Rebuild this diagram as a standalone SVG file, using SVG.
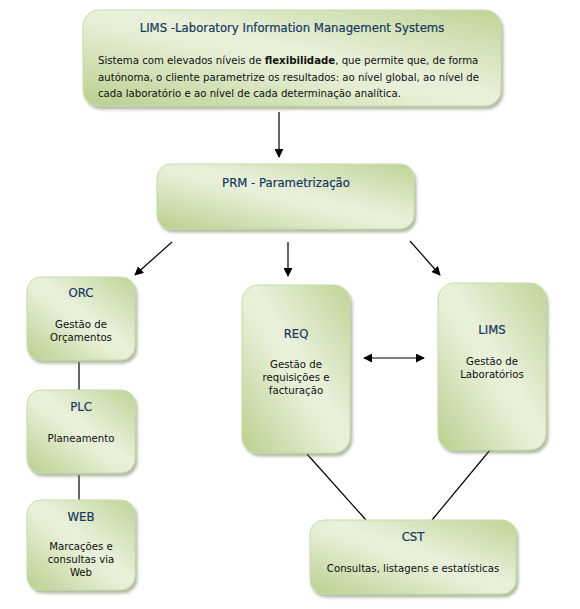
<svg xmlns="http://www.w3.org/2000/svg" width="580" height="609" viewBox="0 0 580 609">
<defs>
<linearGradient id="g" x1="0" y1="1" x2="1" y2="0">
<stop offset="0" stop-color="#b9cf8e"/>
<stop offset="0.45" stop-color="#e6efd6"/>
<stop offset="0.55" stop-color="#e9f0db"/>
<stop offset="1" stop-color="#bed496"/>
</linearGradient>
<filter id="sh" x="-10%" y="-10%" width="130%" height="130%">
<feDropShadow dx="2" dy="3" stdDeviation="1.5" flood-color="#6f7f55" flood-opacity="0.55"/>
</filter>
<marker id="ah" viewBox="0 0 10 10" refX="9" refY="5" markerWidth="9" markerHeight="9" markerUnits="userSpaceOnUse" orient="auto-start-reverse">
<path d="M0,0 L10,5 L0,10 z" fill="#000"/>
</marker>
</defs>
<style>
.box{fill:url(#g);stroke:#c9dba8;stroke-width:1;filter:url(#sh)}
.t{font-family:"DejaVu Sans Condensed","Liberation Sans",sans-serif;font-size:13px;fill:#17375e;text-anchor:middle;stroke:#17375e;stroke-width:0.2}
.b{font-family:"DejaVu Sans Condensed","Liberation Sans",sans-serif;font-size:11.3px;fill:#111;text-anchor:middle}
.c{stroke:#000;stroke-width:1.2;fill:none}
</style>
<rect width="580" height="609" fill="#fff"/>
<g id="connectors">
<line class="c" x1="279" y1="112" x2="279" y2="157" marker-end="url(#ah)"/>
<line class="c" x1="172" y1="242" x2="135" y2="275" marker-end="url(#ah)"/>
<line class="c" x1="288" y1="242" x2="288" y2="276" marker-end="url(#ah)"/>
<line class="c" x1="410" y1="241" x2="440" y2="275" marker-end="url(#ah)"/>
<line class="c" x1="79" y1="362" x2="79" y2="391"/>
<line class="c" x1="79" y1="475" x2="79" y2="500"/>
<line class="c" x1="364" y1="358" x2="424" y2="358" marker-start="url(#ah)" marker-end="url(#ah)"/>
<line class="c" x1="307" y1="454" x2="366" y2="520" stroke-width="1"/>
<line class="c" x1="490" y1="450" x2="432" y2="520" stroke-width="1"/>
</g>
<g id="lims-top">
<rect class="box" x="83" y="10" width="418" height="96" rx="16"/>
<text class="t" x="292" y="32" font-size="15.6">LIMS -Laboratory Information Management Systems</text>
<text class="b" x="98" y="64" style="text-anchor:start">Sistema com elevados níveis de <tspan font-weight="bold">flexibilidade</tspan>, que permite que, de forma</text>
<text class="b" x="98" y="81" style="text-anchor:start">autónoma, o cliente parametrize os resultados: ao nível global, ao nível de</text>
<text class="b" x="98" y="97" style="text-anchor:start">cada laboratório e ao nível de cada determinação analítica.</text>
</g>
<g id="prm">
<rect class="box" x="157" y="164" width="257" height="65" rx="14"/>
<text class="t" x="286" y="187" font-size="15">PRM - Parametrização</text>
</g>
<g id="orc">
<rect class="box" x="27" y="277" width="108" height="83" rx="14"/>
<text class="t" x="81" y="297">ORC</text>
<text class="b" x="81" y="328">Gestão de</text>
<text class="b" x="81" y="341">Orçamentos</text>
</g>
<g id="plc">
<rect class="box" x="27" y="390" width="108" height="83" rx="14"/>
<text class="t" x="81" y="411">PLC</text>
<text class="b" x="81" y="442">Planeamento</text>
</g>
<g id="web">
<rect class="box" x="27" y="500" width="108" height="90" rx="14"/>
<text class="t" x="81" y="521">WEB</text>
<text class="b" x="81" y="550">Marcações e</text>
<text class="b" x="81" y="563">consultas via</text>
<text class="b" x="81" y="576">Web</text>
</g>
<g id="req">
<rect class="box" x="242" y="285" width="108" height="168" rx="16"/>
<text class="t" x="296" y="338">REQ</text>
<text class="b" x="296" y="368">Gestão de</text>
<text class="b" x="296" y="381">requisições e</text>
<text class="b" x="296" y="394">facturação</text>
</g>
<g id="lims">
<rect class="box" x="438" y="283" width="108" height="167" rx="16"/>
<text class="t" x="492" y="334">LIMS</text>
<text class="b" x="492" y="365">Gestão de</text>
<text class="b" x="492" y="378">Laboratórios</text>
</g>
<g id="cst">
<rect class="box" x="310" y="520" width="206" height="74" rx="14"/>
<text class="t" x="413" y="541">CST</text>
<text class="b" x="413" y="572">Consultas, listagens e estatísticas</text>
</g>
</svg>
